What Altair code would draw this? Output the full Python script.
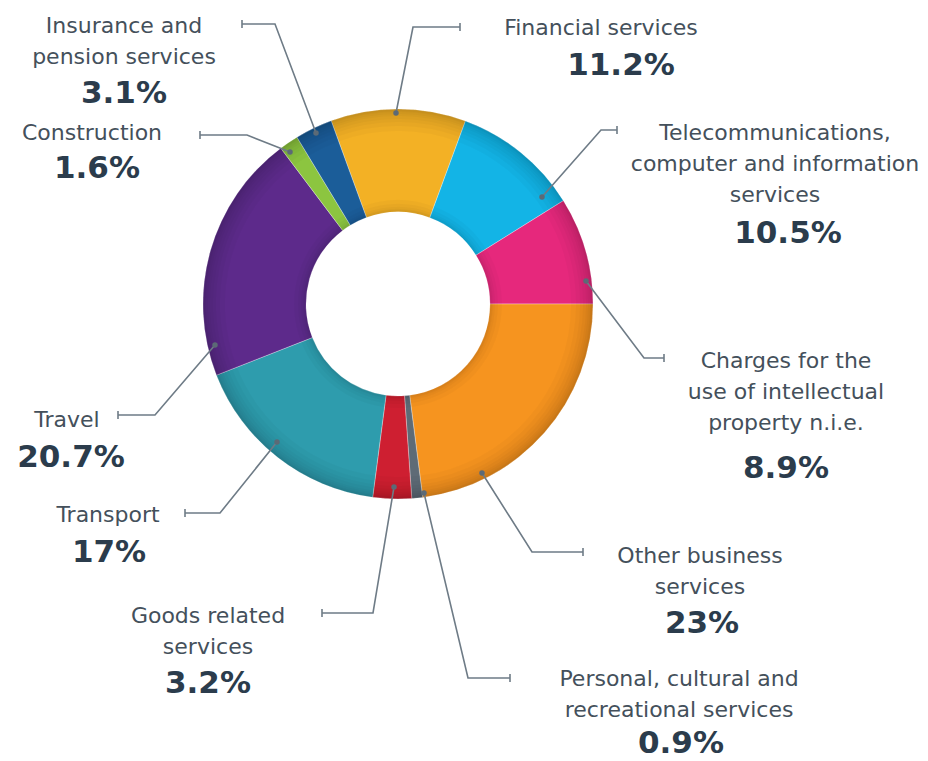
import math
import altair as alt
import pandas as pd

# ---------------- data ----------------
CATEGORIES = [
    "Financial services",
    "Telecommunications, computer and information services",
    "Charges for the use of intellectual property n.i.e.",
    "Other business services",
    "Personal, cultural and recreational services",
    "Goods related services",
    "Transport",
    "Travel",
    "Construction",
    "Insurance and pension services",
]
VALUES = [11.2, 10.5, 8.9, 23.0, 0.9, 3.2, 17.0, 20.7, 1.6, 3.1]
NAME_LABELS = [
    "Financial services",
    "Telecommunications,\ncomputer and information\nservices",
    "Charges for the\nuse of intellectual\nproperty n.i.e.",
    "Other business\nservices",
    "Personal, cultural and\nrecreational services",
    "Goods related\nservices",
    "Transport",
    "Travel",
    "Construction",
    "Insurance and\npension services",
]
PCT_LABELS = ["11.2%", "10.5%", "8.9%", "23%", "0.9%", "3.2%", "17%", "20.7%", "1.6%", "3.1%"]

# ---------------- styles ----------------
COLORS = ["#F3B125", "#13B4E6", "#E6287C", "#F6941F", "#5E6B76",
          "#CE1F31", "#2E9CAD", "#5D2A8B", "#8CC540", "#1B5D99"]
TEXT_COLOR = "#44505b"
PCT_COLOR = "#2b3c4c"
LINE_COLOR = "#6e7b86"

# ---------------- layout (page pixel coordinates) ----------------
M = 8  # page margin
CX, CY = 398, 304
R_OUT, R_IN = 195, 92
LEADER_DOT = [(396, 113), (542, 197), (586, 281), (482, 473), (424, 493),
              (394, 487), (277, 442), (215, 345), (290, 152), (316, 133)]
LEADER_ELBOW = [(413, 27), (601, 130), (644, 358), (532, 552), (468, 678),
                (373, 613), (220, 513), (155, 415), (247, 135), (275, 24)]
LEADER_END = [(460, 27), (617, 130), (664, 358), (583, 552), (510, 678),
              (322, 613), (185, 513), (118, 415), (200, 135), (242, 24)]
NAME_POS = [(601, 35), (775, 140), (786, 368), (700, 563), (679, 686),
            (208, 623), (108, 522), (67, 427), (92, 140), (124, 33)]
PCT_POS = [(621, 75), (788, 243), (786, 478), (702, 633), (681, 753),
           (208, 693), (109, 562), (71, 467), (97, 178), (124, 103)]

# ---------------- tables ----------------
slices = pd.DataFrame({"cat": CATEGORIES, "value": VALUES, "idx": list(range(len(VALUES)))})
total = sum(VALUES)
start = math.pi / 2 - 2 * math.pi * sum(VALUES[:3]) / total

line_rows, tick_rows, dot_rows, name_rows, pct_rows = [], [], [], [], []
for i, c in enumerate(CATEGORIES):
    for k, (x, y) in enumerate([LEADER_DOT[i], LEADER_ELBOW[i], LEADER_END[i]]):
        line_rows.append({"cat": c, "k": k, "x": x - M, "y": y - M})
    ex, ey = LEADER_END[i]
    tick_rows.append({"x": ex - M, "y": ey - M - 4, "y2": ey - M + 4})
    dx, dy = LEADER_DOT[i]
    dot_rows.append({"x": dx - M, "y": dy - M})
    nx, ny = NAME_POS[i]
    name_rows.append({"x": nx - M, "y": ny - M, "t": NAME_LABELS[i]})
    px, py = PCT_POS[i]
    pct_rows.append({"x": px - M, "y": py - M, "t": PCT_LABELS[i]})

theta_scale = alt.Scale(domain=[0, total], range=[start, start + 2 * math.pi])
center = dict(x=alt.value(CX - M), y=alt.value(CY - M))

donut = alt.Chart(slices).mark_arc(
    innerRadius=R_IN, outerRadius=R_OUT, stroke="white", strokeWidth=0.6, strokeOpacity=0.5
).encode(
    theta=alt.Theta("value:Q", stack=True, scale=theta_scale),
    order=alt.Order("idx:Q"),
    color=alt.Color("cat:N", scale=alt.Scale(domain=CATEGORIES, range=COLORS), legend=None),
    **center,
)

def ring(r0, r1, op):
    return alt.Chart(slices).mark_arc(
        innerRadius=r0, outerRadius=r1, color="black", opacity=op
    ).encode(
        theta=alt.Theta("value:Q", stack=True, scale=theta_scale),
        order=alt.Order("idx:Q"),
        detail="cat:N",
        **center,
    )

shades = [ring(R_OUT - w, R_OUT, 0.022) for w in (22, 17, 13, 10, 7, 5, 3, 2)]
shades += [ring(R_IN, R_IN + w, 0.022) for w in (12, 8, 5, 3, 2)]

X = lambda f: alt.X(f, scale=None, axis=None)
Y = lambda f: alt.Y(f, scale=None, axis=None)

leaders = alt.Chart(pd.DataFrame(line_rows)).mark_line(
    color=LINE_COLOR, strokeWidth=1.6
).encode(x=X("x:Q"), y=Y("y:Q"), detail="cat:N", order="k:Q")

ticks = alt.Chart(pd.DataFrame(tick_rows)).mark_rule(
    color=LINE_COLOR, strokeWidth=1.6
).encode(x=X("x:Q"), y=Y("y:Q"), y2="y2:Q")

dots = alt.Chart(pd.DataFrame(dot_rows)).mark_circle(
    color="#5c6a76", size=30, opacity=1
).encode(x=X("x:Q"), y=Y("y:Q"))

names = alt.Chart(pd.DataFrame(name_rows)).mark_text(
    font="DejaVu Sans", fontSize=22, color=TEXT_COLOR, align="center",
    baseline="alphabetic", lineBreak="\n", lineHeight=31
).encode(x=X("x:Q"), y=Y("y:Q"), text="t:N")

pcts = alt.Chart(pd.DataFrame(pct_rows)).mark_text(
    font="DejaVu Sans", fontSize=31, fontWeight="bold", color=PCT_COLOR,
    align="center", baseline="alphabetic"
).encode(x=X("x:Q"), y=Y("y:Q"), text="t:N")

chart = alt.layer(donut, *shades, leaders, ticks, dots, names, pcts).properties(
    width=928 - 2 * M,
    height=761 - M,
    autosize=alt.AutoSizeParams(type="none"),
    padding=0,
    background="white",
).configure_view(stroke=None)

chart.save("out.html", embed_options={"renderer": "svg", "actions": False})
